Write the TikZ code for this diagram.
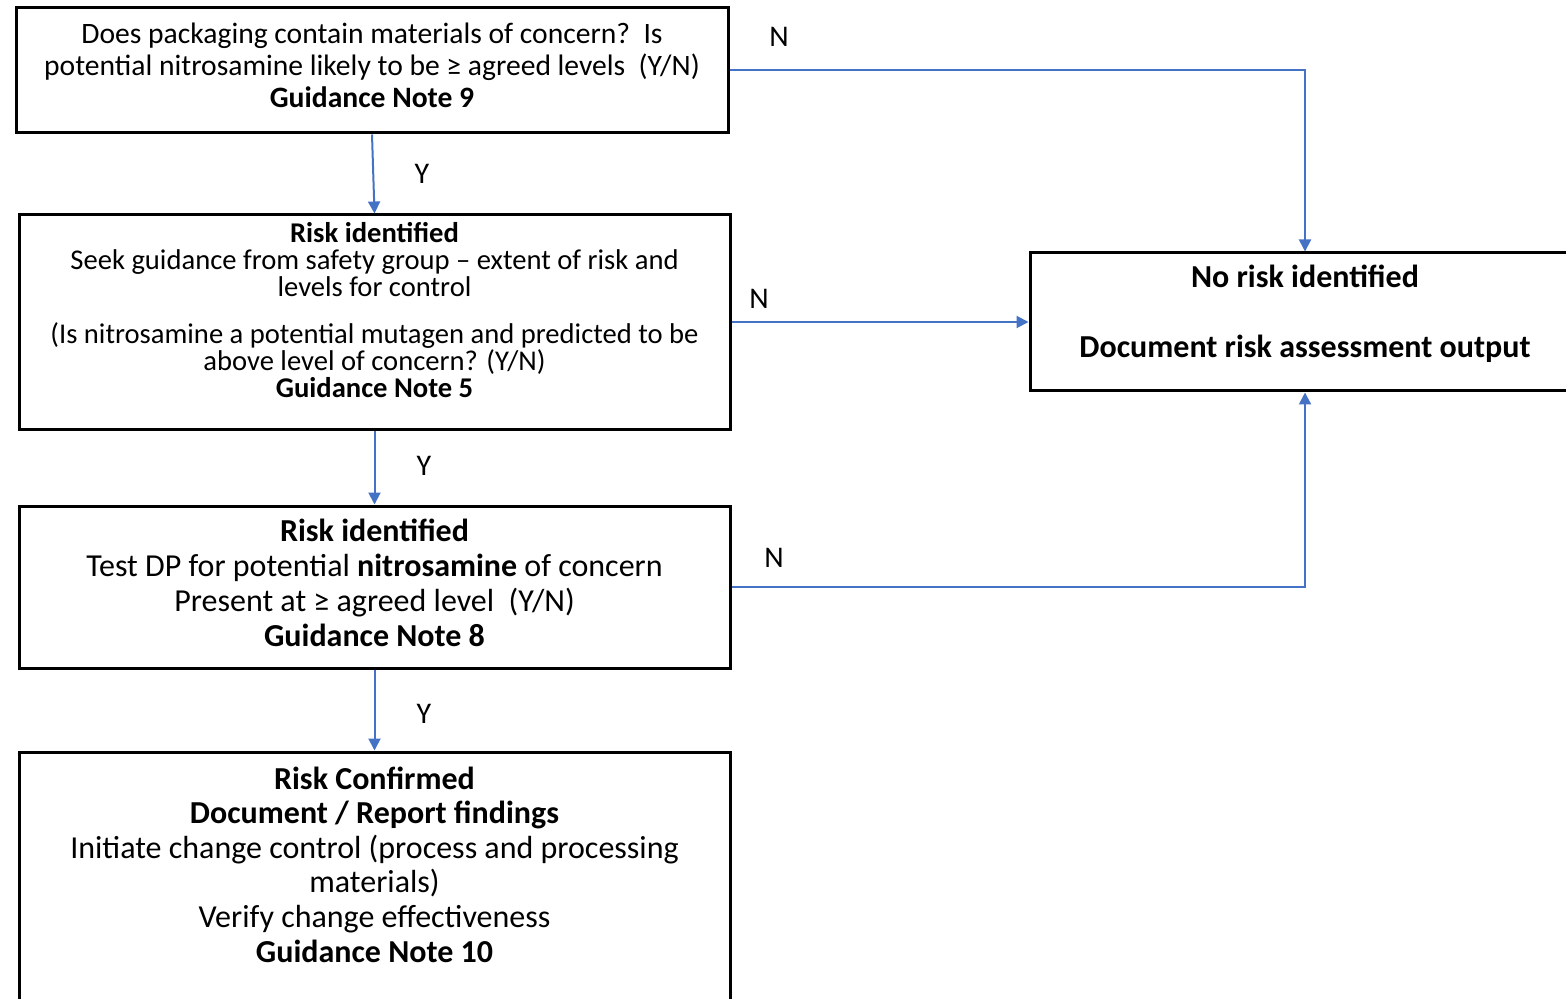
\documentclass[tikz,border=0pt]{standalone}
\usepackage{fontspec}
\setmainfont{Carlito}
\usetikzlibrary{arrows.meta, positioning}
\definecolor{linkblue}{RGB}{68,114,196}

\begin{document}
\begin{tikzpicture}[
  x=0.5pt, y=-0.5pt,
  box/.style={draw, line width=1.5pt, inner sep=0pt},
  txt/.style={align=center, inner sep=0pt},
  link/.style={draw=linkblue, line width=1pt, -{Triangle[length=6pt, width=6pt]}},
  yn/.style={font=\fontsize{15}{15}\selectfont, inner sep=0pt}
]
\useasboundingbox (0,0) rectangle (1566,999);

% Boxes
\node[box, minimum width=356pt, minimum height=62.5pt] (q1) at (372,70.5) {};
\node[box, minimum width=355.5pt, minimum height=107pt] (q2) at (374.5,322) {};
\node[box, minimum width=355.5pt, minimum height=81pt] (q3) at (374.5,587) {};
\node[box, minimum width=355.5pt, minimum height=129pt] (q4) at (374.5,881) {};
\node[box, minimum width=275pt, minimum height=69pt] (nr) at (1305,322) {};

% Texts
\node[txt, font=\fontsize{14.8}{16}\selectfont] (q1t) at (372,65)
  {Does packaging contain materials of concern?~~Is\\
   potential nitrosamine likely to be ≥ agreed levels~~(Y/N)\\
   \textbf{Guidance Note 9}};
\node[txt, font=\fontsize{14.3}{13.5}\selectfont] (q2t) at (374.5,310)
  {\textbf{Risk identified}\\
   Seek guidance from safety group – extent of risk and\\
   levels for control\\[10pt]
   (Is nitrosamine a potential mutagen and predicted to be\\
   above level of concern? (Y/N)\\
   \textbf{Guidance Note 5}};
\node[txt, font=\fontsize{16}{17.4}\selectfont] (q3t) at (374.5,583)
  {\textbf{Risk identified}\\
   Test DP for potential \textbf{nitrosamine} of concern\\
   Present at ≥ agreed level~~(Y/N)\\
   \textbf{Guidance Note 8}};
\node[txt, font=\fontsize{16}{17.3}\selectfont] (q4t) at (374.5,864.5)
  {\textbf{Risk Confirmed}\\
   \textbf{Document / Report findings}\\
   Initiate change control (process and processing\\
   materials)\\
   Verify change effectiveness\\
   \textbf{Guidance Note 10}};
\node[txt, font=\fontsize{16}{17.5}\selectfont\bfseries] (nrt) at (1305,314)
  {No risk identified\\[17.5pt]
   Document risk assessment output};

% Connectors
\draw[link] (q1.south) -- (q2.north);
\draw[link] (q2.south) -- (q3.north);
\draw[link] (q3.south) -- (q4.north);
\draw[link] (q1.east) -| (nr.north);
\draw[link] (q2.east) -- (nr.west);
\draw[link] (q3.east) -| (nr.south);

% Y/N labels
\node[yn] (y1) at (422,174) {Y};
\node[yn] (y2) at (424,466) {Y};
\node[yn] (y3) at (424,714) {Y};
\node[yn] (n1) at (779,37) {N};
\node[yn] (n2) at (759,299) {N};
\node[yn] (n3) at (774,558) {N};

\end{tikzpicture}
\end{document}
